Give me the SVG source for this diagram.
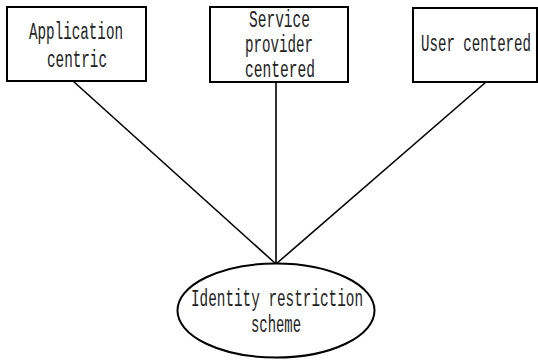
<svg xmlns="http://www.w3.org/2000/svg" width="538" height="360" viewBox="0 0 538 360">
  <style>
    .box { fill: #ffffff; stroke: #000000; stroke-width: 2; }
    .link { stroke: #000000; stroke-width: 1.6; fill: none; }
    .label { font-family: "Liberation Mono", "DejaVu Sans Mono", monospace; font-size: 23px; fill: #222222; text-anchor: start; }
  </style>
  <rect width="538" height="360" fill="#ffffff"/>
  <g id="connectors">
    <line class="link" x1="73" y1="81" x2="276" y2="264"/>
    <line class="link" x1="276" y1="82" x2="276" y2="264"/>
    <line class="link" x1="486" y1="82" x2="276" y2="264"/>
  </g>
  <g id="node-application">
    <rect class="box" x="7" y="7" width="139" height="74"/>
    <text class="label" x="29" y="39" textLength="94" lengthAdjust="spacingAndGlyphs">Application</text>
    <text class="label" x="47" y="67" textLength="60" lengthAdjust="spacingAndGlyphs">centric</text>
  </g>
  <g id="node-service">
    <rect class="box" x="210" y="7" width="138" height="75"/>
    <text class="label" x="249" y="27" textLength="61" lengthAdjust="spacingAndGlyphs">Service</text>
    <text class="label" x="245" y="52" textLength="68" lengthAdjust="spacingAndGlyphs">provider</text>
    <text class="label" x="245" y="77" textLength="70" lengthAdjust="spacingAndGlyphs">centered</text>
  </g>
  <g id="node-user">
    <rect class="box" x="413" y="8" width="124" height="74"/>
    <text class="label" x="421" y="51" textLength="110" lengthAdjust="spacingAndGlyphs">User centered</text>
  </g>
  <g id="node-identity">
    <ellipse class="box" cx="276" cy="310.5" rx="98.5" ry="47"/>
    <text class="label" x="191" y="306" textLength="172" lengthAdjust="spacingAndGlyphs">Identity restriction</text>
    <text class="label" x="251" y="332" textLength="50" lengthAdjust="spacingAndGlyphs">scheme</text>
  </g>
</svg>
